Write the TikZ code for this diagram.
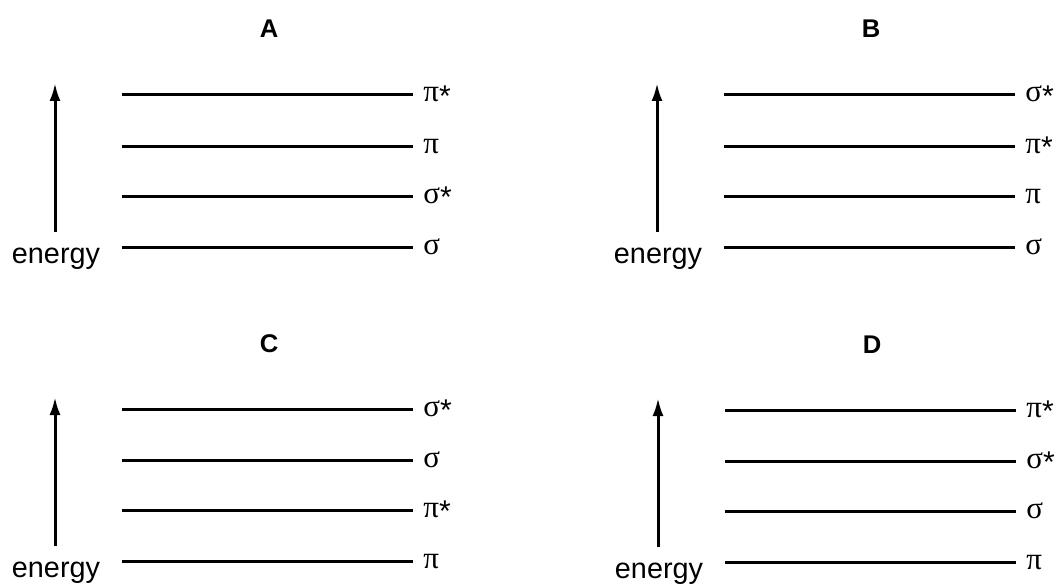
\documentclass[tikz,border=0pt]{standalone}
\usepackage{fontspec}
\setmainfont{Liberation Sans}
\newfontfamily\grk{Liberation Serif}
\usetikzlibrary{arrows.meta}
\newcommand\st{\raisebox{-2pt}{\fontsize{15}{15}\selectfont\rmfamily*}}
\tikzset{
  level/.style={line width=1.5pt, line cap=butt},
  arr/.style={line width=1.5pt, -{Latex[length=9pt,width=5.5pt]}},
  lab/.style={anchor=base west, inner sep=0pt, font=\fontsize{15.5}{18}\selectfont\grk},
  en/.style={anchor=base, inner sep=0pt, font=\fontsize{14.4}{17}\selectfont},
  ttl/.style={anchor=base, inner sep=0pt, font=\fontsize{12.8}{15}\selectfont\bfseries},
}
\newcommand\mopanel[8]{%
  \begin{scope}[shift={(#2,#3)}]
    \node[ttl] (#1t) at (269,38) {#4};
    \foreach \yy/\ll [count=\i] in {95/#5,146/#6,196/#7,247/#8} {
      \coordinate (#1s\i) at (122,\yy);
      \coordinate (#1e\i) at (413,\yy);
      \draw[level] (#1s\i) -- (#1e\i);
      \node[lab] (#1l\i) at (423,\yy+7) {\ll};
    }
    \coordinate (#1a0) at (55,232);
    \coordinate (#1a1) at (55,83);
    \draw[arr] (#1a0) -- (#1a1);
    \node[en] (#1en) at (56,263) {energy};
  \end{scope}}
\begin{document}
\begin{tikzpicture}[x=0.5pt,y=-0.5pt]
\useasboundingbox (0,0) rectangle (1059,583);
\mopanel{A}{0}{0}{A}{π\st}{π}{σ\st}{σ}
\mopanel{B}{602}{0}{B}{σ\st}{π\st}{π}{σ}
\mopanel{C}{0}{314}{C}{σ\st}{σ}{π\st}{π}
\mopanel{D}{603}{315}{D}{π\st}{σ\st}{σ}{π}
\end{tikzpicture}
\end{document}
